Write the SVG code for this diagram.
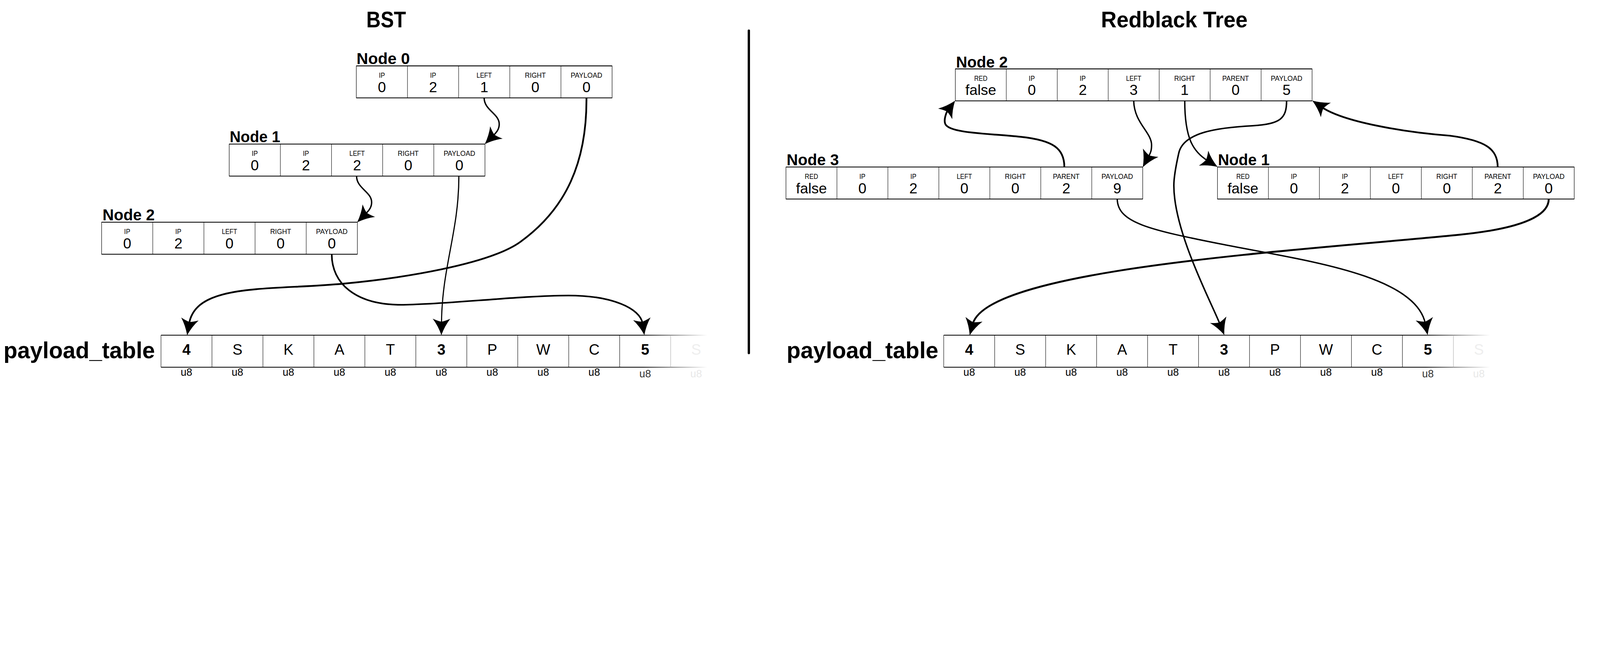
<svg xmlns="http://www.w3.org/2000/svg" width="6897" height="1669" viewBox="0 0 6897 1669" style="max-width:100vw;height:auto">
<style>
text{font-family:"Liberation Sans",Arial,sans-serif;fill:#000}
.bx{fill:#fff;stroke:#000;stroke-width:2}
.hl{fill:none;stroke:#000;stroke-width:3.5}
.dv{fill:none;stroke:#000;stroke-width:1.8}
.lb{font-size:30px;text-anchor:middle}
.vl{font-size:63px;text-anchor:middle}
.nm{font-size:70px;font-weight:bold}
.tt{font-size:98px;font-weight:bold}
.pt{font-size:100px;font-weight:bold}
.tv{font-size:64px;text-anchor:middle}
.tb{font-size:64px;text-anchor:middle;font-weight:bold}
.u8{font-size:45px;text-anchor:middle}
.cn{fill:none;stroke:#000;marker-end:url(#ah)}
</style>
<defs>
<marker id="ah" markerUnits="userSpaceOnUse" orient="auto" overflow="visible" markerWidth="10" markerHeight="10" refX="0" refY="0">
<path d="M50,0 Q10,-14 -21,-38 Q-11,-15 -8,0 Q-11,15 -21,38 Q10,14 50,0Z" fill="#000"/>
</marker>
<linearGradient id="fade" gradientUnits="userSpaceOnUse" x1="2079" y1="0" x2="2355" y2="0">
<stop offset="0" stop-color="#000" stop-opacity="1"/>
<stop offset="1" stop-color="#000" stop-opacity="0"/>
</linearGradient>
</defs>
<rect width="6897" height="1669" fill="#fff"/>

<text class="tt" x="1579" y="118" textLength="171" lengthAdjust="spacingAndGlyphs">BST</text>
<text class="tt" x="4746" y="118" textLength="632" lengthAdjust="spacingAndGlyphs">Redblack Tree</text>
<g id="divider"><path d="M3228,132V1522" stroke="#000" stroke-width="10" stroke-linecap="round"/></g>

<!-- BST nodes -->
<g id="bst-node0" transform="translate(1536,284)">
<text class="nm" x="1" y="-7" textLength="230" lengthAdjust="spacingAndGlyphs">Node 0</text>
<rect class="bx" width="1102.5" height="138"/>
<path class="hl" d="M0,0H1102.5M0,138H1102.5"/>
<path class="dv" d="M220.5,0V138M441,0V138M661.5,0V138M882,0V138"/>
<text class="lb" x="110.25" y="51" textLength="26" lengthAdjust="spacingAndGlyphs">IP</text>
<text class="lb" x="330.75" y="51" textLength="26" lengthAdjust="spacingAndGlyphs">IP</text>
<text class="lb" x="551.25" y="51" textLength="66" lengthAdjust="spacingAndGlyphs">LEFT</text>
<text class="lb" x="771.75" y="51" textLength="90" lengthAdjust="spacingAndGlyphs">RIGHT</text>
<text class="lb" x="992.25" y="51" textLength="136" lengthAdjust="spacingAndGlyphs">PAYLOAD</text>
<text class="vl" x="110.25" y="113">0</text>
<text class="vl" x="330.75" y="113">2</text>
<text class="vl" x="551.25" y="113">1</text>
<text class="vl" x="771.75" y="113">0</text>
<text class="vl" x="992.25" y="113">0</text>
</g>
<g id="bst-node1" transform="translate(988,621)">
<text class="nm" x="2" y="-8" textLength="218" lengthAdjust="spacingAndGlyphs">Node 1</text>
<rect class="bx" width="1102.5" height="138"/>
<path class="hl" d="M0,0H1102.5M0,138H1102.5"/>
<path class="dv" d="M220.5,0V138M441,0V138M661.5,0V138M882,0V138"/>
<text class="lb" x="110.25" y="51" textLength="26" lengthAdjust="spacingAndGlyphs">IP</text>
<text class="lb" x="330.75" y="51" textLength="26" lengthAdjust="spacingAndGlyphs">IP</text>
<text class="lb" x="551.25" y="51" textLength="66" lengthAdjust="spacingAndGlyphs">LEFT</text>
<text class="lb" x="771.75" y="51" textLength="90" lengthAdjust="spacingAndGlyphs">RIGHT</text>
<text class="lb" x="992.25" y="51" textLength="136" lengthAdjust="spacingAndGlyphs">PAYLOAD</text>
<text class="vl" x="110.25" y="113">0</text>
<text class="vl" x="330.75" y="113">2</text>
<text class="vl" x="551.25" y="113">2</text>
<text class="vl" x="771.75" y="113">0</text>
<text class="vl" x="992.25" y="113">0</text>
</g>
<g id="bst-node2" transform="translate(438,958)">
<text class="nm" x="4" y="-8" textLength="225" lengthAdjust="spacingAndGlyphs">Node 2</text>
<rect class="bx" width="1102.5" height="138"/>
<path class="hl" d="M0,0H1102.5M0,138H1102.5"/>
<path class="dv" d="M220.5,0V138M441,0V138M661.5,0V138M882,0V138"/>
<text class="lb" x="110.25" y="51" textLength="26" lengthAdjust="spacingAndGlyphs">IP</text>
<text class="lb" x="330.75" y="51" textLength="26" lengthAdjust="spacingAndGlyphs">IP</text>
<text class="lb" x="551.25" y="51" textLength="66" lengthAdjust="spacingAndGlyphs">LEFT</text>
<text class="lb" x="771.75" y="51" textLength="90" lengthAdjust="spacingAndGlyphs">RIGHT</text>
<text class="lb" x="992.25" y="51" textLength="136" lengthAdjust="spacingAndGlyphs">PAYLOAD</text>
<text class="vl" x="110.25" y="113">0</text>
<text class="vl" x="330.75" y="113">2</text>
<text class="vl" x="551.25" y="113">0</text>
<text class="vl" x="771.75" y="113">0</text>
<text class="vl" x="992.25" y="113">0</text>
</g>

<!-- RB nodes -->
<g id="rb-node2" transform="translate(4118,297)">
<text class="nm" x="3" y="-5" textLength="223" lengthAdjust="spacingAndGlyphs">Node 2</text>
<rect class="bx" width="1537.9" height="138"/>
<path class="hl" d="M0,0H1537.9M0,138H1537.9"/>
<path class="dv" d="M219.7,0V138M439.4,0V138M659.1,0V138M878.8,0V138M1098.5,0V138M1318.2,0V138"/>
<text class="lb" x="109.85" y="51" textLength="57" lengthAdjust="spacingAndGlyphs">RED</text>
<text class="lb" x="329.55" y="51" textLength="26" lengthAdjust="spacingAndGlyphs">IP</text>
<text class="lb" x="549.25" y="51" textLength="26" lengthAdjust="spacingAndGlyphs">IP</text>
<text class="lb" x="768.95" y="51" textLength="66" lengthAdjust="spacingAndGlyphs">LEFT</text>
<text class="lb" x="988.65" y="51" textLength="90" lengthAdjust="spacingAndGlyphs">RIGHT</text>
<text class="lb" x="1208.35" y="51" textLength="115" lengthAdjust="spacingAndGlyphs">PARENT</text>
<text class="lb" x="1428.05" y="51" textLength="136" lengthAdjust="spacingAndGlyphs">PAYLOAD</text>
<text class="vl" x="109.85" y="113">false</text>
<text class="vl" x="329.55" y="113">0</text>
<text class="vl" x="549.25" y="113">2</text>
<text class="vl" x="768.95" y="113">3</text>
<text class="vl" x="988.65" y="113">1</text>
<text class="vl" x="1208.35" y="113">0</text>
<text class="vl" x="1428.05" y="113">5</text>
</g>
<g id="rb-node3" transform="translate(3388,720)">
<text class="nm" x="3" y="-7" textLength="225" lengthAdjust="spacingAndGlyphs">Node 3</text>
<rect class="bx" width="1537.9" height="138"/>
<path class="hl" d="M0,0H1537.9M0,138H1537.9"/>
<path class="dv" d="M219.7,0V138M439.4,0V138M659.1,0V138M878.8,0V138M1098.5,0V138M1318.2,0V138"/>
<text class="lb" x="109.85" y="51" textLength="57" lengthAdjust="spacingAndGlyphs">RED</text>
<text class="lb" x="329.55" y="51" textLength="26" lengthAdjust="spacingAndGlyphs">IP</text>
<text class="lb" x="549.25" y="51" textLength="26" lengthAdjust="spacingAndGlyphs">IP</text>
<text class="lb" x="768.95" y="51" textLength="66" lengthAdjust="spacingAndGlyphs">LEFT</text>
<text class="lb" x="988.65" y="51" textLength="90" lengthAdjust="spacingAndGlyphs">RIGHT</text>
<text class="lb" x="1208.35" y="51" textLength="115" lengthAdjust="spacingAndGlyphs">PARENT</text>
<text class="lb" x="1428.05" y="51" textLength="136" lengthAdjust="spacingAndGlyphs">PAYLOAD</text>
<text class="vl" x="109.85" y="113">false</text>
<text class="vl" x="329.55" y="113">0</text>
<text class="vl" x="549.25" y="113">2</text>
<text class="vl" x="768.95" y="113">0</text>
<text class="vl" x="988.65" y="113">0</text>
<text class="vl" x="1208.35" y="113">2</text>
<text class="vl" x="1428.05" y="113">9</text>
</g>
<g id="rb-node1" transform="translate(5248,720)">
<text class="nm" x="2" y="-7" textLength="223" lengthAdjust="spacingAndGlyphs">Node 1</text>
<rect class="bx" width="1537.9" height="138"/>
<path class="hl" d="M0,0H1537.9M0,138H1537.9"/>
<path class="dv" d="M219.7,0V138M439.4,0V138M659.1,0V138M878.8,0V138M1098.5,0V138M1318.2,0V138"/>
<text class="lb" x="109.85" y="51" textLength="57" lengthAdjust="spacingAndGlyphs">RED</text>
<text class="lb" x="329.55" y="51" textLength="26" lengthAdjust="spacingAndGlyphs">IP</text>
<text class="lb" x="549.25" y="51" textLength="26" lengthAdjust="spacingAndGlyphs">IP</text>
<text class="lb" x="768.95" y="51" textLength="66" lengthAdjust="spacingAndGlyphs">LEFT</text>
<text class="lb" x="988.65" y="51" textLength="90" lengthAdjust="spacingAndGlyphs">RIGHT</text>
<text class="lb" x="1208.35" y="51" textLength="115" lengthAdjust="spacingAndGlyphs">PARENT</text>
<text class="lb" x="1428.05" y="51" textLength="136" lengthAdjust="spacingAndGlyphs">PAYLOAD</text>
<text class="vl" x="109.85" y="113">false</text>
<text class="vl" x="329.55" y="113">0</text>
<text class="vl" x="549.25" y="113">2</text>
<text class="vl" x="768.95" y="113">0</text>
<text class="vl" x="988.65" y="113">0</text>
<text class="vl" x="1208.35" y="113">2</text>
<text class="vl" x="1428.05" y="113">0</text>
</g>

<!-- payload tables -->
<g id="bst-payload-table">
<text class="pt" x="15" y="1545" textLength="653" lengthAdjust="spacingAndGlyphs">payload_table</text>
<g transform="translate(694,1445)">
<rect width="2420" height="138" fill="#fff"/>
<path d="M0,0H2420M0,138H2420" fill="none" stroke="url(#fade)" stroke-width="3.5"/>
<path class="dv" d="M0,0V138M219.7,0V138M439.4,0V138M659.1,0V138M878.8,0V138M1098.5,0V138M1318.2,0V138M1537.9,0V138M1757.6,0V138M1977.3,0V138"/>
<path d="M2197,0V138" stroke="#aaa" stroke-width="1.8"/>
<text class="tb" x="109.85" y="84">4</text>
<text class="tv" x="329.55" y="84">S</text>
<text class="tv" x="549.25" y="84">K</text>
<text class="tv" x="768.95" y="84">A</text>
<text class="tv" x="988.65" y="84">T</text>
<text class="tb" x="1208.35" y="84">3</text>
<text class="tv" x="1428.05" y="84">P</text>
<text class="tv" x="1647.75" y="84">W</text>
<text class="tv" x="1867.45" y="84">C</text>
<text class="tb" x="2087.15" y="84">5</text>
<text class="tv" x="2306.85" y="84" style="fill:#eee">S</text>
<text class="u8" x="109.85" y="176">u8</text>
<text class="u8" x="329.55" y="176">u8</text>
<text class="u8" x="549.25" y="176">u8</text>
<text class="u8" x="768.95" y="176">u8</text>
<text class="u8" x="988.65" y="176">u8</text>
<text class="u8" x="1208.35" y="176">u8</text>
<text class="u8" x="1428.05" y="176">u8</text>
<text class="u8" x="1647.75" y="176">u8</text>
<text class="u8" x="1867.45" y="176">u8</text>
<text class="u8" x="2087.15" y="182" style="fill:#333">u8</text>
<text class="u8" x="2306.85" y="182" style="fill:#e8e8e8">u8</text>
</g>
</g>
<g id="rb-payload-table">
<text class="pt" x="3391" y="1545" textLength="654" lengthAdjust="spacingAndGlyphs">payload_table</text>
<g transform="translate(4068,1445)">
<rect width="2420" height="138" fill="#fff"/>
<path d="M0,0H2420M0,138H2420" fill="none" stroke="url(#fade)" stroke-width="3.5"/>
<path class="dv" d="M0,0V138M219.7,0V138M439.4,0V138M659.1,0V138M878.8,0V138M1098.5,0V138M1318.2,0V138M1537.9,0V138M1757.6,0V138M1977.3,0V138"/>
<path d="M2197,0V138" stroke="#aaa" stroke-width="1.8"/>
<text class="tb" x="109.85" y="84">4</text>
<text class="tv" x="329.55" y="84">S</text>
<text class="tv" x="549.25" y="84">K</text>
<text class="tv" x="768.95" y="84">A</text>
<text class="tv" x="988.65" y="84">T</text>
<text class="tb" x="1208.35" y="84">3</text>
<text class="tv" x="1428.05" y="84">P</text>
<text class="tv" x="1647.75" y="84">W</text>
<text class="tv" x="1867.45" y="84">C</text>
<text class="tb" x="2087.15" y="84">5</text>
<text class="tv" x="2306.85" y="84" style="fill:#eee">S</text>
<text class="u8" x="109.85" y="176">u8</text>
<text class="u8" x="329.55" y="176">u8</text>
<text class="u8" x="549.25" y="176">u8</text>
<text class="u8" x="768.95" y="176">u8</text>
<text class="u8" x="988.65" y="176">u8</text>
<text class="u8" x="1208.35" y="176">u8</text>
<text class="u8" x="1428.05" y="176">u8</text>
<text class="u8" x="1647.75" y="176">u8</text>
<text class="u8" x="1867.45" y="176">u8</text>
<text class="u8" x="2087.15" y="182" style="fill:#333">u8</text>
<text class="u8" x="2306.85" y="182" style="fill:#e8e8e8">u8</text>
</g>
</g>

<!-- connectors -->
<g id="connectors">
<path class="cn" stroke-width="6" d="M2087,422 C2087,475 2152,490 2152,535 C2152,555 2143,568 2125,586"/>
<path class="cn" stroke-width="6" d="M1537,759 C1537,812 1602,827 1602,872 C1602,892 1593,905 1575,923"/>
<path class="cn" stroke-width="7.5" d="M2528,422 C2530,700 2440,900 2244,1042 C2110,1140 1729,1200 1479,1223 C1150,1253 845,1220 815,1396"/>
<path class="cn" stroke-width="5" d="M1978,760 C1978,1000 1905,1150 1903,1395"/>
<path class="cn" stroke-width="7" d="M1430,1097 C1430,1220 1530,1314 1729,1314 C1900,1314 2250,1274 2450,1274 C2640,1274 2760,1330 2770,1395"/>
<path class="cn" stroke-width="6" d="M4887,435 C4889,530 4964,570 4964,625 C4964,645 4962,655 4950,677"/>
<path class="cn" stroke-width="6" d="M5107,435 C5107,600 5145,655 5206,693"/>
<path class="cn" stroke-width="6.5" d="M5546,435 C5546,510 5520,535 5400,542 C5250,550 5100,570 5081,661 C5070,710 5060,760 5060,800 C5060,1000 5220,1300 5259,1398"/>
<path class="cn" stroke-width="7.5" d="M4588,720 C4588,640 4540,605 4400,590 C4260,575 4095,575 4075,535 C4067,518 4078,486 4087,474"/>
<path class="cn" stroke-width="7.5" d="M6456,720 C6456,640 6400,605 6250,585 C6050,570 5790,525 5698,462"/>
<path class="cn" stroke-width="6" d="M4816,858 C4818,960 4950,990 5273,1054 C5600,1120 6100,1180 6144,1395"/>
<path class="cn" stroke-width="8" d="M6676,858 C6676,930 6560,985 6291,1012 C5591,1082 4258,1157 4193,1397"/>
</g>
</svg>
